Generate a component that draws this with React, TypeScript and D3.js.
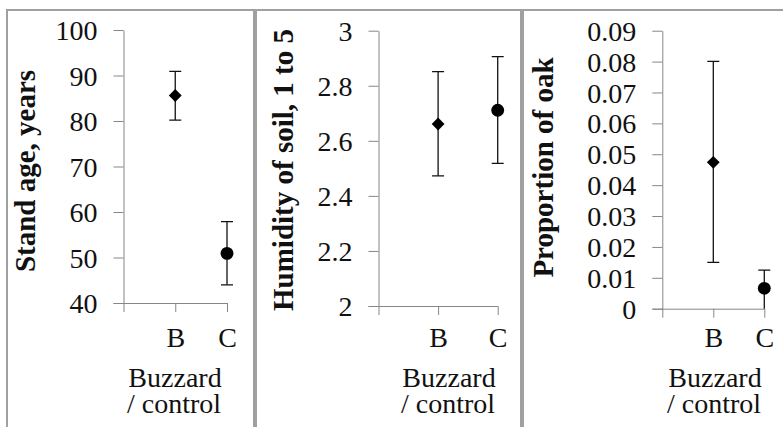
import React, { useEffect, useRef } from 'react';
import * as d3 from 'd3';

// categories on the x axis (the first one is an empty slot at the y axis)
const categories = ['', 'B', 'C'];
const groups = ['B', 'C'];

// stand age, years
const standAge = [85.6, 50.9];
const standAgeLow = [80.2, 44];
const standAgeHigh = [90.9, 57.9];
const standAgeTicks = [40, 50, 60, 70, 80, 90, 100];

// humidity of soil
const humidity = [2.661, 2.711];
const humidityLow = [2.473, 2.518];
const humidityHigh = [2.851, 2.906];
const humidityTicks = [2, 2.2, 2.4, 2.6, 2.8, 3];

// proportion of oak (lower bar of C runs below the axis and is cut off)
const oak = [0.0474, 0.0066];
const oakLow = [0.015, -0.002];
const oakHigh = [0.0801, 0.0125];
const oakTicks = [0, 0.01, 0.02, 0.03, 0.04, 0.05, 0.06, 0.07, 0.08, 0.09];

const FONT = '"Times New Roman", "Liberation Serif", Tinos, "DejaVu Serif", serif';
const AXIS_GREY = '#868686';
const BORDER_GREY = '#a0a0a0';

const panels = [
    {
        title: 'Stand age, years', values: standAge, low: standAgeLow, high: standAgeHigh,
        ticks: standAgeTicks, fmt: d3.format('d'),
        box: [7, 254], x0: 123.5, x1: 227, top: 30, bottom: 303, titleX: 35, titleY: 171, xTitleX: 175
    },
    {
        title: 'Humidity of soil, 1 to 5', values: humidity, low: humidityLow, high: humidityHigh,
        ticks: humidityTicks, fmt: (d) => String(+d.toFixed(1)),
        box: [256, 521], x0: 378.5, x1: 497.7, top: 30.7, bottom: 306, titleX: 293, titleY: 170, xTitleX: 449
    },
    {
        title: 'Proportion of oak', values: oak, low: oakLow, high: oakHigh,
        ticks: oakTicks, fmt: (d) => String(+d.toFixed(2)),
        box: [523, 786], x0: 662.3, x1: 764.3, top: 30.7, bottom: 308.7, titleX: 553, titleY: 167.5, xTitleX: 715
    }
];

const Chart = () => {
    const ref = useRef<SVGSVGElement>(null);

    useEffect(() => {
        const svg = d3.select(ref.current);
        svg.selectAll('*').remove();

        panels.forEach((p, pi) => {
            const g = svg.append('g')
                .style('font-family', FONT);

            // panel frame
            g.append('rect')
                .attr('x', p.box[0])
                .attr('y', 10)
                .attr('width', p.box[1] - p.box[0])
                .attr('height', 440)
                .attr('fill', 'white')
                .attr('stroke', BORDER_GREY)
                .attr('stroke-width', 2);

            const y = d3.scaleLinear()
                .domain([p.ticks[0], p.ticks[p.ticks.length - 1]])
                .range([p.bottom, p.top]);

            const x = d3.scalePoint()
                .domain(categories)
                .range([p.x0, p.x1]);

            // y axis
            const ya = g.append('g')
                .attr('transform', `translate(${p.x0},0)`)
                .call(d3.axisLeft(y).tickValues(p.ticks).tickFormat(p.fmt).tickSize(10).tickSizeOuter(0).tickPadding(16));
            ya.attr('font-family', null);
            ya.selectAll('path, line').attr('stroke', AXIS_GREY);
            ya.selectAll('text')
                .attr('fill', '#111')
                .style('font-family', FONT)
                .attr('font-size', 28)
                .attr('dy', '0.34em');

            // x axis
            const xa = g.append('g')
                .attr('transform', `translate(0,${p.bottom})`)
                .call(d3.axisBottom(x).tickSize(9).tickSizeOuter(0));
            xa.attr('font-family', null);
            xa.select('.domain').attr('d', `M${p.x0 - 10},0.5H${p.x1}`);
            xa.selectAll('path, line').attr('stroke', AXIS_GREY);
            xa.selectAll('text')
                .attr('fill', '#111')
                .style('font-family', FONT)
                .attr('font-size', 28)
                .attr('dy', null)
                .attr('y', 347 - p.bottom);

            // y title
            g.append('text')
                .attr('transform', `translate(${p.titleX},${p.titleY}) rotate(-90)`)
                .attr('text-anchor', 'middle')
                .style('font-family', FONT)
                .attr('font-weight', 'bold')
                .attr('font-size', 29)
                .attr('fill', '#111')
                .text(p.title);

            // x title
            const xt = g.append('text')
                .attr('text-anchor', 'middle')
                .style('font-family', FONT)
                .attr('font-size', 28)
                .attr('fill', '#111');
            xt.append('tspan').attr('x', p.xTitleX).attr('y', 387).text('Buzzard');
            xt.append('tspan').attr('x', p.xTitleX - 1).attr('y', 413).text('/ control');

            // error bars, clipped to the plot area
            const clipId = `clip-${pi}`;
            g.append('clipPath').attr('id', clipId)
                .append('rect')
                .attr('x', p.x0 - 20).attr('y', p.top - 20)
                .attr('width', p.x1 - p.x0 + 40).attr('height', p.bottom - p.top + 20);

            const bars = g.append('g')
                .attr('clip-path', `url(#${clipId})`)
                .attr('stroke', '#111')
                .attr('stroke-width', 1.3);

            groups.forEach((c, i) => {
                const cx = x(c);
                bars.append('line')
                    .attr('x1', cx).attr('x2', cx)
                    .attr('y1', y(p.low[i])).attr('y2', y(p.high[i]));
                [p.low[i], p.high[i]].forEach(v => {
                    bars.append('line')
                        .attr('x1', cx - 6).attr('x2', cx + 6)
                        .attr('y1', y(v)).attr('y2', y(v));
                });
            });

            // markers: diamond for B, circle for C
            groups.forEach((c, i) => {
                const isB = i === 0;
                g.append('path')
                    .attr('d', d3.symbol(isB ? d3.symbolSquare : d3.symbolCircle, isB ? 82 : 130)())
                    .attr('transform', `translate(${x(c)},${y(p.values[i])})${isB ? ' rotate(45)' : ''}`)
                    .attr('fill', '#000');
            });
        });
    }, []);

    return (
        <svg ref={ref} width={783} height={427}
            style={{ position: 'absolute', left: 0, top: 0, background: 'white' }} />
    );
};

export default function App() {
    return <Chart />;
}
